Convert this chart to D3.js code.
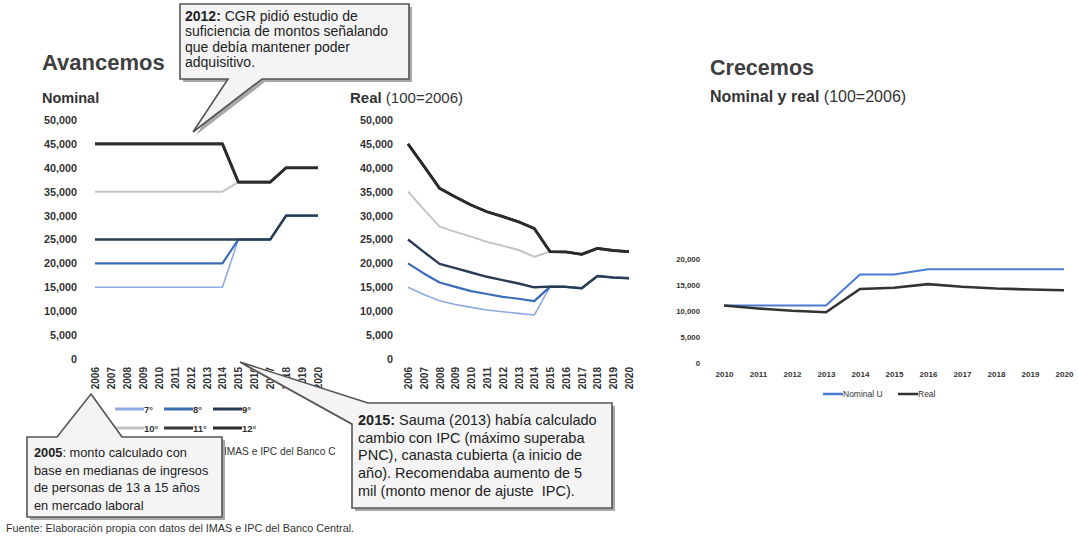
<!DOCTYPE html>
<html lang="es">
<head>
<meta charset="UTF-8">
<title>Avancemos y Crecemos</title>
<script src="https://d3js.org/d3.v7.min.js"></script>
<style>
    body { margin: 0; background: #fff; }
    svg { display: block; font-family: "Liberation Sans", Arial, sans-serif; }
    .tick text { fill: #333; }
</style>
</head>
<body>
<svg id="chart" width="1078" height="539"></svg>
<script>
// Avancemos: monthly amount by grade (colones)
const years = [2006, 2007, 2008, 2009, 2010, 2011, 2012, 2013, 2014, 2015, 2016, 2017, 2018, 2019, 2020];
const grades = ["7°", "8°", "9°", "10°", "11°", "12°"];

const nominal7  = [15000, 15000, 15000, 15000, 15000, 15000, 15000, 15000, 15000, 25000, 25000, 25000, 30000, 30000, 30000];
const nominal8  = [20000, 20000, 20000, 20000, 20000, 20000, 20000, 20000, 20000, 25000, 25000, 25000, 30000, 30000, 30000];
const nominal9  = [25000, 25000, 25000, 25000, 25000, 25000, 25000, 25000, 25000, 25000, 25000, 25000, 30000, 30000, 30000];
const nominal10 = [35000, 35000, 35000, 35000, 35000, 35000, 35000, 35000, 35000, 37000, 37000, 37000, 40000, 40000, 40000];
const nominal11 = [45000, 45000, 45000, 45000, 45000, 45000, 45000, 45000, 45000, 37000, 37000, 37000, 40000, 40000, 40000];
const nominal12 = [45000, 45000, 45000, 45000, 45000, 45000, 45000, 45000, 45000, 37000, 37000, 37000, 40000, 40000, 40000];

const real7  = [15000, 13500, 12200, 11400, 10800, 10250, 9900, 9550, 9200, 15150, 15100, 14800, 17350, 17050, 16900];
const real8  = [20000, 17900, 16000, 15100, 14200, 13600, 13000, 12600, 12100, 15150, 15100, 14800, 17350, 17050, 16900];
const real9  = [25000, 22400, 19900, 19000, 18100, 17200, 16500, 15800, 15000, 15150, 15100, 14800, 17350, 17050, 16900];
const real10 = [35000, 31300, 27700, 26600, 25600, 24500, 23700, 22800, 21400, 22450, 22400, 21900, 23150, 22700, 22450];
const real11 = [45000, 40400, 35700, 33900, 32200, 30800, 29800, 28700, 27300, 22450, 22400, 21900, 23150, 22700, 22450];
const real12 = [45000, 40400, 35700, 33900, 32200, 30800, 29800, 28700, 27300, 22450, 22400, 21900, 23150, 22700, 22450];

const avTicks = [0, 5000, 10000, 15000, 20000, 25000, 30000, 35000, 40000, 45000, 50000];

// Crecemos
const yearsC = [2010, 2011, 2012, 2013, 2014, 2015, 2016, 2017, 2018, 2019, 2020];
const crecNominal = [11000, 11000, 11000, 11000, 17000, 17000, 18000, 18000, 18000, 18000, 18000];
const crecReal    = [11000, 10450, 10000, 9700, 14200, 14450, 15150, 14650, 14300, 14100, 13950];
const crecTicks = [0, 5000, 10000, 15000, 20000];
const crecSeries = ["Nominal U", "Real"];

const gradeColors = ["#8faae2", "#3b6cb7", "#2a3c52", "#c4c4c4", "#3a3a3a", "#2b2b2b"];
const gradeWidths = [1.6, 2.2, 2.4, 2, 2.6, 2.8];

const svg = d3.select("#chart");
const fmt = d3.format(",");

function yAxis(g, scale, ticks, size) {
    g.call(d3.axisLeft(scale).tickValues(ticks).tickSize(0).tickPadding(3).tickFormat(fmt));
    g.select(".domain").remove();
    g.selectAll("text").style("font-size", size + "px").style("font-weight", "bold");
}

function xAxisRotated(g, scale) {
    g.call(d3.axisBottom(scale).tickSize(0));
    g.select(".domain").remove();
    g.selectAll("text")
        .attr("transform", "rotate(-90)")
        .attr("text-anchor", "end")
        .attr("x", -4).attr("y", 0).attr("dy", "0.35em")
        .style("font-size", "10px").style("font-weight", "bold");
}

function drawLines(scaleX, scaleY, seriesList) {
    const line = d3.line().x((d, i) => scaleX(years[i])).y(d => scaleY(d));
    svg.append("g").selectAll("path")
        .data(seriesList)
        .join("path")
        .attr("fill", "none")
        .attr("stroke", (d, i) => gradeColors[i])
        .attr("stroke-width", (d, i) => gradeWidths[i])
        .attr("stroke-linejoin", "round")
        .attr("d", d => line(d));
}

// --- Avancemos nominal ---
const xNom = d3.scalePoint().domain(years).range([95, 318]);
const yAv = d3.scaleLinear().domain([0, 50000]).range([359, 120]);
svg.append("g").attr("transform", "translate(80,0)").call(yAxis, yAv, avTicks, 10.8);
svg.append("g").attr("transform", "translate(0,363)").call(xAxisRotated, xNom);
drawLines(xNom, yAv, [nominal7, nominal8, nominal9, nominal10, nominal11, nominal12]);

// --- Avancemos real ---
const xReal = d3.scalePoint().domain(years).range([408, 629]);
svg.append("g").attr("transform", "translate(396,0)").call(yAxis, yAv, avTicks, 10.8);
svg.append("g").attr("transform", "translate(0,363)").call(xAxisRotated, xReal);
drawLines(xReal, yAv, [real7, real8, real9, real10, real11, real12]);

// titles
svg.append("text").attr("x", 42).attr("y", 70).text("Avancemos")
    .style("font-size", "22px").style("font-weight", "bold").attr("fill", "#404040");
svg.append("text").attr("x", 42).attr("y", 103).text("Nominal")
    .style("font-size", "14.5px").style("font-weight", "bold").attr("fill", "#333");
const realTitle = svg.append("text").attr("x", 350).attr("y", 103).style("font-size", "15px").attr("fill", "#333");
realTitle.append("tspan").style("font-weight", "bold").text("Real");
realTitle.append("tspan").text(" (100=2006)");

// grade legend
const legendRows = [[0, 1, 2], [3, 4, 5]];
legendRows.forEach((row, r) => {
    row.forEach((gi, c) => {
        const lx = 115 + c * 49, ly = 409 + r * 19;
        svg.append("line").attr("x1", lx).attr("x2", lx + 29).attr("y1", ly).attr("y2", ly)
            .attr("stroke", gradeColors[gi]).attr("stroke-width", 3);
        svg.append("text").attr("x", lx + 29).attr("y", ly + 3.5).text(grades[gi])
            .style("font-size", "9.5px").style("font-weight", "bold").attr("fill", "#333");
    });
});

// --- Crecemos ---
const xC = d3.scalePoint().domain(yearsC).range([724, 1064]);
const yC = d3.scaleLinear().domain([0, 20000]).range([362.5, 259]);
const gyC = svg.append("g").attr("transform", "translate(703,0)");
gyC.call(d3.axisLeft(yC).tickValues(crecTicks).tickSize(0).tickPadding(3).tickFormat(fmt));
gyC.select(".domain").remove();
gyC.selectAll("text").style("font-size", "7.8px").style("font-weight", "bold");
const gxC = svg.append("g").attr("transform", "translate(0,371)");
gxC.call(d3.axisBottom(xC).tickSize(0).tickPadding(0));
gxC.select(".domain").remove();
gxC.selectAll("text").style("font-size", "8px").style("font-weight", "bold");

const lineC = d3.line().x((d, i) => xC(yearsC[i])).y(d => yC(d));
const crecColors = ["#4a7bd4", "#333333"];
svg.append("g").selectAll("path")
    .data([crecNominal, crecReal])
    .join("path")
    .attr("fill", "none")
    .attr("stroke", (d, i) => crecColors[i])
    .attr("stroke-width", (d, i) => i ? 2.6 : 2)
    .attr("d", d => lineC(d));

crecSeries.forEach((name, i) => {
    const lx = i ? 898 : 823;
    svg.append("line").attr("x1", lx).attr("x2", lx + 20).attr("y1", 394).attr("y2", 394)
        .attr("stroke", crecColors[i]).attr("stroke-width", 2.5);
    svg.append("text").attr("x", lx + 20).attr("y", 397).text(name)
        .style("font-size", "8.5px").attr("fill", "#333");
});

svg.append("text").attr("x", 710).attr("y", 75).text("Crecemos")
    .style("font-size", "21.5px").style("font-weight", "bold").attr("fill", "#404040");
const crecSub = svg.append("text").attr("x", 710).attr("y", 102).style("font-size", "16px").attr("fill", "#333");
crecSub.append("tspan").style("font-weight", "bold").text("Nominal y real");
crecSub.append("tspan").text(" (100=2006)");

// visible fragment of the source line lying behind the callouts
svg.append("text").attr("x", 224).attr("y", 455)
    .text("IMAS e IPC del Banco C").style("font-size", "10.2px").attr("fill", "#333");

// --- callouts ---
function callout(pathD, lines, tx, ty, lh, size) {
    svg.append("path").attr("d", pathD).attr("transform", "translate(3,3)").attr("fill", "#a8a8a8");
    svg.append("path").attr("d", pathD).attr("fill", "#f4f4f4")
        .attr("stroke", "#555").attr("stroke-width", 1.6).attr("stroke-linejoin", "miter");
    const t = svg.append("text").style("font-size", size + "px").attr("fill", "#222");
    lines.forEach((ln, i) => {
        const row = t.append("tspan").attr("x", tx).attr("y", ty + i * lh);
        ln.forEach(part => {
            row.append("tspan").text(part[0]).style("font-weight", part[1] ? "bold" : "normal");
        });
    });
}

callout("M180,4 H409 V79 H262 L193,132 L228,79 H180 Z", [
    [["2012:", true], [" CGR pidió estudio de", false]],
    [["suficiencia de montos señalando", false]],
    [["que debía mantener poder", false]],
    [["adquisitivo.", false]]
], 185, 21, 15.3, 14);

callout("M27,437 H57 L91,394 L122,437 H222 V517 H27 Z", [
    [["2005", true], [": monto calculado con", false]],
    [["base en medianas de ingresos", false]],
    [["de personas de 13 a 15 años", false]],
    [["en mercado laboral", false]]
], 34, 457, 17.5, 12.8);

callout("M368,403 H612 V508 H352 V424 L240,362 Z", [
    [["2015:", true], [" Sauma (2013) había calculado", false]],
    [["cambio con IPC (máximo superaba", false]],
    [["PNC), canasta cubierta (a inicio de", false]],
    [["año). Recomendaba aumento de 5", false]],
    [["mil (monto menor de ajuste\u00a0 IPC).", false]]
], 358, 425, 17.7, 14.5);

svg.append("text").attr("x", 6).attr("y", 532)
    .text("Fuente: Elaboración propia con datos del IMAS e IPC del Banco Central.")
    .style("font-size", "10.8px").attr("fill", "#333");
</script>
</body>
</html>
